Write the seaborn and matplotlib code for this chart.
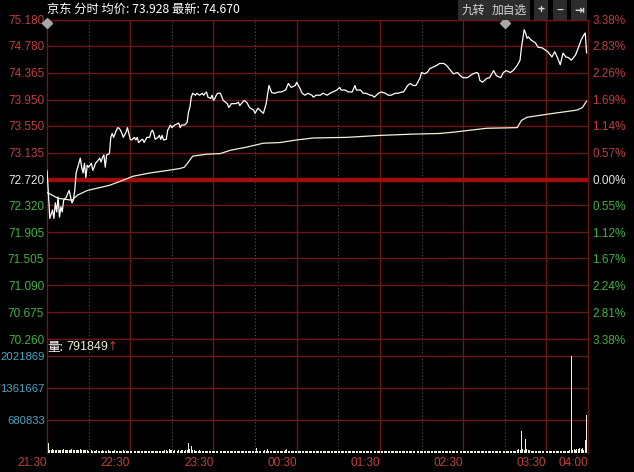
"""
京东 分时图 (夜盘 21:30 ~ 04:00) 재현
- 상단: 분시 가격선 + 均价선
- 하단: 분당 거래량
"""

import pandas as pd
import matplotlib
matplotlib.use("Agg")
import matplotlib.pyplot as plt
import seaborn as sns

# ── 데이터 ────────────────────────────────────────────────────────────────────
stock_name = "京东"
prev_close = 72.720
avg_price_last = 73.928
last_price = 74.670
last_volume = 791849

# 가격선 꼭짓점 (개장 후 분, 가격)
price_min = [0, 1, 2, 4, 5, 6, 7, 8, 9, 10, 11, 12, 14, 15, 16, 17, 18, 19, 20, 21,
             23, 24, 25, 26, 27, 28, 29, 30, 32, 33, 34, 35, 37, 38, 39, 40, 41, 42, 43, 45,
             46, 47, 48, 50, 51, 52, 53, 54, 55, 57, 58, 59, 60, 61, 63, 64, 65, 66, 68, 69,
             70, 71, 72, 74, 75, 76, 77, 78, 80, 81, 82, 83, 84, 86, 87, 89, 90, 92, 95, 96,
             97, 99, 101, 102, 103, 104, 105, 107, 108, 110, 112, 113, 114, 115, 116, 118, 119, 120, 121, 122,
             123, 125, 127, 130, 131, 133, 136, 138, 139, 142, 144, 146, 149, 150, 152, 155, 156, 158, 160, 162,
             164, 167, 169, 172, 174, 176, 179, 180, 182, 184, 186, 188, 191, 192, 194, 197, 199, 202, 204, 206,
             209, 211, 212, 215, 217, 220, 222, 223, 226, 228, 230, 233, 234, 236, 239, 241, 244, 246, 248, 251,
             253, 256, 257, 260, 262, 264, 266, 269, 270, 272, 274, 276, 278, 281, 283, 286, 288, 291, 293, 296,
             298, 300, 303, 305, 307, 310, 311, 312, 314, 317, 319, 322, 324, 327, 329, 331, 334, 336, 339, 341,
             342, 344, 345, 346, 347, 349, 352, 354, 357, 359, 361, 364, 366, 368, 370, 372, 374, 376, 378, 381,
             383, 385, 387, 388, 389]
price = [72.86, 72.51, 72.12, 72.25, 72.12, 72.36, 72.22, 72.45, 72.14, 72.30, 72.22, 72.40, 72.45, 72.51, 72.55, 72.45, 72.36, 72.40, 72.55, 72.82,
         72.97, 73.05, 72.91, 72.82, 72.97, 72.75, 72.94, 72.91, 72.97, 72.86, 72.91, 72.97, 73.02, 73.05, 72.99, 73.06, 73.10, 72.91, 73.10, 73.12,
         73.37, 73.43, 73.37, 73.48, 73.52, 73.51, 73.48, 73.43, 73.37, 73.45, 73.52, 73.43, 73.34, 73.33, 73.37, 73.33, 73.37, 73.29, 73.33, 73.34,
         73.29, 73.33, 73.37, 73.37, 73.45, 73.48, 73.43, 73.34, 73.37, 73.40, 73.34, 73.40, 73.33, 73.34, 73.48, 73.56, 73.52, 73.56, 73.59, 73.52,
         73.56, 73.56, 73.60, 73.76, 73.83, 73.99, 74.05, 74.02, 74.05, 74.02, 74.05, 74.02, 74.05, 74.07, 73.99, 73.97, 74.02, 73.94, 73.97, 74.02,
         74.05, 74.05, 73.94, 73.89, 73.83, 73.89, 73.89, 73.91, 73.86, 73.94, 73.91, 73.83, 73.79, 73.74, 73.82, 73.76, 73.74, 73.89, 74.17, 74.06,
         74.05, 74.07, 74.07, 74.10, 74.20, 74.14, 74.17, 74.22, 74.14, 74.05, 74.02, 74.05, 74.02, 73.99, 74.02, 74.02, 74.05, 74.02, 74.05, 74.07,
         74.10, 74.14, 74.10, 74.10, 74.07, 74.07, 74.17, 74.10, 74.10, 74.05, 74.05, 74.02, 74.02, 73.99, 74.05, 74.07, 74.05, 74.02, 74.02, 74.05,
         74.05, 74.07, 74.07, 74.17, 74.20, 74.17, 74.17, 74.29, 74.37, 74.35, 74.37, 74.43, 74.45, 74.48, 74.51, 74.51, 74.48, 74.40, 74.35, 74.37,
         74.32, 74.29, 74.29, 74.32, 74.35, 74.37, 74.35, 74.25, 74.22, 74.28, 74.29, 74.40, 74.32, 74.29, 74.37, 74.40, 74.37, 74.40, 74.48, 74.56,
         74.75, 75.03, 74.98, 74.90, 74.92, 74.87, 74.83, 74.76, 74.75, 74.72, 74.69, 74.61, 74.69, 74.60, 74.49, 74.67, 74.61, 74.60, 74.56, 74.64,
         74.75, 74.87, 74.95, 74.98, 74.67]

# 均价선 꼭짓점
avg_min = [0, 8, 18, 22, 29, 45, 55, 62, 74, 87, 96, 99, 102, 105, 115, 125, 132, 144, 156, 168,
           180, 192, 216, 240, 264, 283, 293, 317, 339, 342, 346, 365, 382, 386, 389]
avg_price = [72.52, 72.43, 72.40, 72.48, 72.55, 72.63, 72.71, 72.77, 72.82, 72.86, 72.89, 72.91, 72.99, 73.08, 73.11, 73.12, 73.17, 73.22, 73.28, 73.29,
             73.33, 73.36, 73.37, 73.40, 73.42, 73.43, 73.45, 73.51, 73.52, 73.63, 73.68, 73.74, 73.79, 73.83, 73.93]

# 분당 거래량 (천 주), 한 줄 = 30분
volume_k = [
    314, 200, 70, 60, 75, 55, 65, 60, 70, 55, 60, 65, 75, 60, 55, 70, 60, 65, 80, 60, 55, 70, 65, 60, 75, 60, 55, 65, 60, 70,
    50, 45, 55, 50, 45, 50, 55, 45, 50, 45, 55, 50, 45, 50, 55, 45, 50, 45, 50, 55, 45, 50, 45, 50, 45, 55, 50, 45, 50, 45,
    45, 50, 45, 40, 50, 45, 50, 45, 40, 50, 45, 45, 50, 40, 45, 50, 45, 40, 50, 45, 45, 50, 45, 40, 50, 55, 60, 50, 90, 70,
    60, 50, 55, 50, 45, 55, 50, 60, 55, 50, 70, 65, 210, 80, 150, 60, 55, 50, 45, 50, 55, 50, 45, 50, 45, 50, 45, 50, 45, 50,
    45, 40, 42, 46, 40, 44, 40, 45, 42, 40, 46, 40, 44, 42, 40, 45, 40, 43, 46, 40, 42, 45, 40, 44, 40, 46, 42, 40, 45, 48,
    50, 100, 45, 40, 50, 45, 40, 55, 50, 85, 45, 40, 45, 42, 40, 46, 44, 40, 45, 42, 50, 45, 55, 85, 45, 40, 44, 42, 40, 45,
    42, 40, 45, 38, 42, 40, 44, 38, 42, 40, 38, 44, 40, 42, 38, 40, 44, 40, 38, 42, 40, 44, 38, 40, 42, 38, 44, 40, 42, 38,
    40, 42, 38, 44, 40, 42, 38, 40, 44, 38, 42, 40, 38, 44, 40, 42, 38, 40, 44, 38, 42, 40, 38, 42, 44, 40, 38, 42, 40, 44,
    42, 40, 38, 44, 40, 42, 38, 44, 40, 42, 38, 40, 44, 40, 42, 38, 44, 40, 42, 38, 40, 44, 40, 42, 38, 40, 44, 42, 40, 38,
    45, 42, 40, 44, 42, 45, 40, 44, 42, 45, 40, 44, 42, 40, 45, 42, 40, 44, 42, 40, 45, 42, 44, 40, 42, 45, 40, 44, 42, 40,
    42, 44, 40, 45, 42, 40, 44, 42, 45, 40, 44, 42, 40, 45, 42, 44, 40, 42, 45, 40, 44, 42, 40, 45, 42, 44, 40, 42, 45, 44,
    45, 42, 44, 40, 45, 42, 44, 48, 50, 55, 85, 60, 460, 90, 70, 290, 80, 60, 55, 50, 48, 45, 50, 44, 48, 45, 50, 46, 44, 48,
    46, 44, 48, 45, 44, 46, 48, 45, 44, 46, 48, 45, 44, 46, 48, 45, 50, 55, 2022, 60, 85, 70, 85, 75, 100, 80, 100, 60, 270, 792,
]

# 축 눈금
price_ticks = [75.180, 74.780, 74.365, 73.950, 73.550, 73.135, 72.720,
               72.320, 71.905, 71.505, 71.090, 70.675, 70.260]
pct_labels = ["3.38%", "2.83%", "2.26%", "1.69%", "1.14%", "0.57%", "0.00%",
              "0.55%", "1.12%", "1.67%", "2.24%", "2.81%", "3.38%"]
vol_ticks = [680833, 1361667, 2021869]
time_ticks = [0, 60, 120, 180, 240, 300, 360, 390]
time_labels = ["21:30", "22:30", "23:30", "00:30", "01:30", "02:30", "03:30", "04:00"]
hour_marks = [30, 90, 150, 210, 270, 330]       # 정시(점선)
event_minutes = [0, 330]                         # 상단 ◆ 정보 표시

# ── 스타일 ────────────────────────────────────────────────────────────────────
sns.set_style("dark")
plt.rcParams["font.family"] = ["Liberation Sans", "Noto Sans CJK SC", "DejaVu Sans"]
plt.rcParams["axes.unicode_minus"] = False

BG = "black"
GRID = "#6c1717"
UP = "#bf3f3f"
DOWN = "#45b045"
FLAT = "#e6e6e6"
VOLC = "#4aa6c6"
FS = 8.5

fig = plt.figure(figsize=(6.34, 4.72), dpi=100, facecolor=BG)
W, H = 634, 472
ax = fig.add_axes([47 / W, 1 - 339 / H, 541 / W, 319 / H])
axv = fig.add_axes([47 / W, 1 - 453 / H, 541 / W, 114 / H], sharex=ax)

for a in (ax, axv):
    a.set_facecolor(BG)
    for s in a.spines.values():
        s.set_color(GRID)
        s.set_linewidth(1)
    a.grid(False)
    for m in time_ticks[1:-1]:
        a.axvline(m, color=GRID, lw=1, zorder=1)
    for m in hour_marks:
        a.axvline(m, color="#555555", lw=0.8, ls=(0, (1, 2)), zorder=1)
ax.spines["bottom"].set_visible(False)
axv.spines["bottom"].set_visible(False)

# ── 가격 패널 ──────────────────────────────────────────────────────────────────
ax.set_xlim(0, 390)
ax.set_ylim(min(price_ticks), max(price_ticks))
for t in price_ticks:
    ax.axhline(t, color=GRID, lw=1, zorder=1)
ax.axhline(prev_close, color="#9e1010", lw=3.2, zorder=1)

df_price = pd.DataFrame({"minute": price_min, "price": price})
df_avg = pd.DataFrame({"minute": avg_min, "avg": avg_price})
sns.lineplot(data=df_avg, x="minute", y="avg", ax=ax, color="#f4f1d6",
             lw=0.9, estimator=None, sort=False, zorder=3)
sns.lineplot(data=df_price, x="minute", y="price", ax=ax, color="white",
             lw=0.9, estimator=None, sort=False, zorder=4)
ax.plot(event_minutes, [0.99] * len(event_minutes), ls="", marker="D", ms=5,
        color="#a8a8a8", transform=ax.get_xaxis_transform(), clip_on=False, zorder=5)

ax.set_yticks(price_ticks)
ax.set_yticklabels([f"{t:.3f}" for t in price_ticks], fontsize=FS)
ax.tick_params(axis="y", length=0, pad=2)
ax.tick_params(axis="x", length=0, labelbottom=False)
for lab, t in zip(ax.get_yticklabels(), price_ticks):
    lab.set_color(UP if t > prev_close else (DOWN if t < prev_close else FLAT))
ax.set_xlabel("")
ax.set_ylabel("")

ax2 = ax.twinx()
ax2.set_ylim(ax.get_ylim())
ax2.set_yticks(price_ticks)
ax2.set_yticklabels(pct_labels, fontsize=FS)
ax2.tick_params(axis="y", length=0, pad=3)
for s in ax2.spines.values():
    s.set_visible(False)
for lab, t in zip(ax2.get_yticklabels(), price_ticks):
    lab.set_color(UP if t > prev_close else (DOWN if t < prev_close else FLAT))
ax2.grid(False)

# ── 거래량 패널 ────────────────────────────────────────────────────────────────
df_vol = pd.DataFrame({"minute": range(len(volume_k)),
                       "volume": [v * 1000 for v in volume_k]})
sns.histplot(data=df_vol, x="minute", weights="volume", discrete=True, shrink=0.7,
             color="#eef4dc", alpha=1, linewidth=0, ax=axv, zorder=3)
axv.set_ylim(0, 2376000)
for t in vol_ticks:
    axv.axhline(t, color=GRID, lw=1, zorder=1)
axv.set_yticks(vol_ticks)
axv.set_yticklabels([str(t) for t in vol_ticks], fontsize=8.1, color=VOLC)
axv.tick_params(axis="y", length=0, pad=1.5)
axv.set_xticks(time_ticks)
axv.set_xticklabels(time_labels, fontsize=FS, color=UP, ha="right")
axv.tick_params(axis="x", length=0, pad=3)
axv.set_xlabel("")
axv.set_ylabel("")
axv.set_xlim(0, 390)

# ── 상단 텍스트 / 버튼 ─────────────────────────────────────────────────────────
fig.text(47 / W, 1 - 9 / H, f"{stock_name} 分时 均价: {avg_price_last:.3f} 最新: {last_price:.3f}",
         color="white", fontsize=8.8, va="center", ha="left",
         family=["Noto Sans CJK SC", "DejaVu Sans"])
buttons = [("九转", 473), ("加自选", 509), ("+", 541), ("−", 560), ("⇥", 579)]
for txt, bx in buttons:
    fig.text(bx / W, 1 - 10 / H, txt, color="#d8d8d8", fontsize=8.5, va="center", ha="center",
             fontweight="bold" if len(txt) == 1 else "normal",
             family=["Noto Sans CJK SC", "DejaVu Sans"],
             bbox=dict(boxstyle="square,pad=0.3", facecolor="#2c2c2c", edgecolor="none"))

fig.text(47 / W, 1 - 347 / H, "量:", color="white", fontsize=FS + 0.5, va="center", ha="left",
         family=["Noto Sans CJK SC", "DejaVu Sans"])
fig.text(66 / W, 1 - 347 / H, f"{last_volume}", color="#eeeed2", fontsize=FS + 0.5, va="center", ha="left")
fig.text(108 / W, 1 - 347 / H, "↑", color=UP, fontsize=FS, va="center", ha="left",
         family=["DejaVu Sans"])

fig.savefig("out.png", dpi=100, facecolor=BG)
